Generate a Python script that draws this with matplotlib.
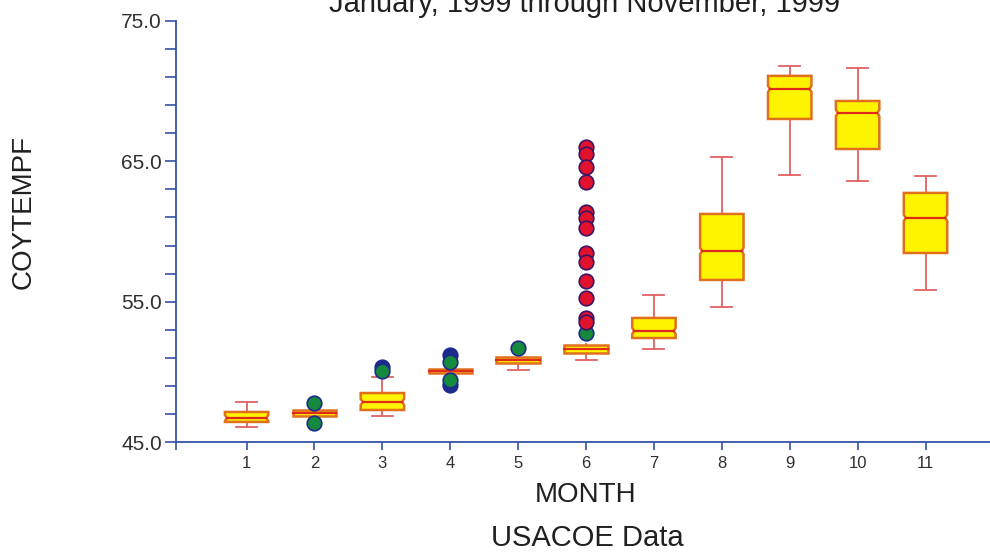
import matplotlib.pyplot as plt
from matplotlib.ticker import FixedLocator

plt.rcParams['font.family'] = ['Liberation Sans', 'DejaVu Sans']

# monthly box statistics for COYTEMPF (deg F)
months = list(range(1, 12))
whisker_lo = [46.07, 46.85, 46.85, 49.95, 50.13, 50.84, 51.63, 54.62, 64.03, 63.60, 55.83]
q1 = [46.43, 46.85, 47.28, 49.95, 50.63, 51.34, 52.41, 56.55, 68.02, 65.88, 58.47]
median = [46.71, 47.05, 47.85, 50.05, 50.84, 51.60, 52.91, 58.61, 70.16, 68.45, 60.97]
q3 = [47.14, 47.28, 48.49, 50.20, 51.06, 51.91, 53.84, 61.25, 71.09, 69.30, 62.75]
whisker_hi = [47.85, 47.30, 49.60, 50.20, 51.10, 51.95, 55.48, 65.31, 71.80, 71.66, 63.96]

# outside values
far_month = [3, 4, 4]
far_value = [50.35, 51.20, 49.06]
near_month = [2, 2, 3, 4, 4, 5, 6]
near_value = [47.78, 46.35, 50.06, 50.70, 49.42, 51.70, 52.77]
extreme_month = [6] * 13
extreme_value = [66.03, 65.53, 64.60, 63.53, 61.39, 60.97, 60.25,
                 58.47, 57.83, 56.48, 55.26, 53.84, 53.55]

box_w = 0.64
cap_w = 0.31
notch_h = 0.22
notch_d = 0.03

axis_color = '#3452a8'

fig = plt.figure(figsize=(9.9, 5.54), dpi=100)
ax = fig.add_axes([176 / 990, 1 - 442 / 554, 814 / 990, 421 / 554])

for m, lo, a, md, b, hi in zip(months, whisker_lo, q1, median, q3, whisker_hi):
    l, r = m - box_w / 2, m + box_w / 2
    # whiskers and caps
    ax.plot([m, m], [b, hi], color='#e06262', lw=1.3, zorder=2)
    ax.plot([m, m], [lo, a], color='#e06262', lw=1.3, zorder=2)
    if hi > b + 0.05:
        ax.plot([m - cap_w / 2, m + cap_w / 2], [hi, hi], color='#e06262', lw=1.3, zorder=2)
    if lo < a - 0.05:
        ax.plot([m - cap_w / 2, m + cap_w / 2], [lo, lo], color='#e06262', lw=1.3, zorder=2)
    # notched box
    if b - a > 3 * notch_h:
        xs = [l, l, l + notch_d, l, l, r, r, r - notch_d, r, r]
        ys = [a, md - notch_h, md, md + notch_h, b, b, md + notch_h, md, md - notch_h, a]
        ml, mr = l + notch_d, r - notch_d
    else:
        xs = [l, l, r, r]
        ys = [a, b, b, a]
        ml, mr = l, r
    ax.fill(xs, ys, facecolor='#fff400', edgecolor='#e0701c', lw=1.8, zorder=2)
    ax.plot([ml, mr], [md, md], color='#e02a1a', lw=1.6, zorder=2)

ax.plot(far_month, far_value, 'o', ms=10.5, mfc='#1c2a8c', mec='#1c2a8c', mew=1.2, zorder=3)
ax.plot(near_month, near_value, 'o', ms=10.5, mfc='#168a3c', mec='#1c2a8c', mew=1.2, zorder=4)
ax.plot(extreme_month, extreme_value, 'o', ms=10.5, mfc='#e0122c', mec='#3a1466', mew=1.2, zorder=4)

ax.set_xlim(-0.04, 11.95)
ax.set_ylim(45, 75)
ax.set_xticks(months)
ax.set_xticklabels([str(m) for m in months])
ax.set_yticks([45, 55, 65, 75])
ax.set_yticklabels(['45.0', '55.0', '65.0', '75.0'])
ax.yaxis.set_minor_locator(FixedLocator([v for v in range(47, 75, 2) if v not in (55, 65)]))
ax.set_xticks([-0.04], minor=True)

for side in ['top', 'right']:
    ax.spines[side].set_visible(False)
for side in ['left', 'bottom']:
    ax.spines[side].set_color(axis_color)
    ax.spines[side].set_linewidth(1.3)

ax.tick_params(axis='y', which='both', direction='out', length=8, width=1.2,
               color=axis_color, labelsize=15, labelcolor='#303030', pad=2)
ax.tick_params(axis='x', which='both', direction='out', length=6, width=1.2,
               color=axis_color, labelsize=12, labelcolor='#303030', pad=4)

fig.text(0.590, 1 - 12 / 554, 'January, 1999 through November, 1999',
         ha='center', va='baseline', fontsize=21, color='#202020')
fig.text(0.024, 1 - 212 / 554, 'COYTEMPF', rotation=90,
         ha='center', va='center', fontsize=20, color='#202020')
fig.text(0.591, 1 - 495 / 554, 'MONTH', ha='center', va='center', fontsize=20, color='#202020')
fig.text(0.593, 1 - 538 / 554, 'USACOE Data', ha='center', va='center', fontsize=21, color='#202020')

fig.savefig('out.png', dpi=100, facecolor='white')
